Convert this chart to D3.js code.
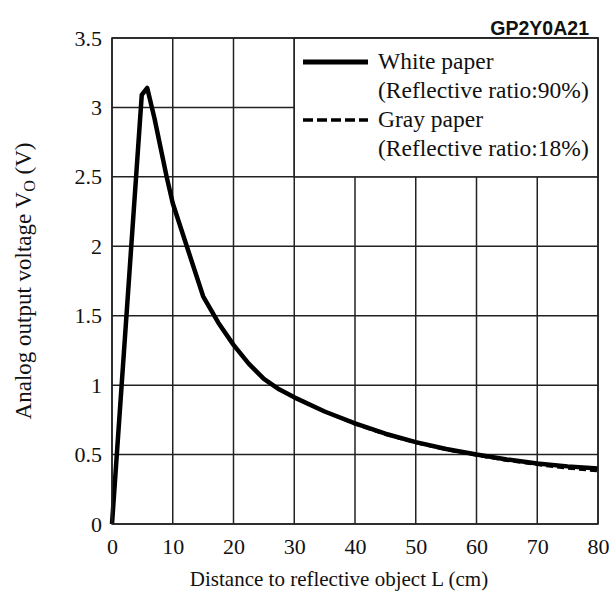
<!DOCTYPE html>
<html>
<head>
<meta charset="utf-8">
<script src="https://cdn.jsdelivr.net/npm/d3@7"></script>
<style>
body{margin:0;background:#fff;}
svg text{font-family:"Liberation Serif","Times New Roman",serif;fill:#111;}
</style>
</head>
<body>
<svg id="chart" width="611" height="601"></svg>
<script>
const title = "GP2Y0A21";
const xTicks = [0,10,20,30,40,50,60,70,80];
const yTicks = [0,0.5,1,1.5,2,2.5,3,3.5];
const yTickLabels = ["0","0.5","1","1.5","2","2.5","3","3.5"];
const distance = [0,4.9,5.8,7,8,9,10,15,17.5,20,22.5,25,27.5,30,35,40,45,50,55,60,65,70,75,80];
const whitePaper = [0,3.09,3.14,2.92,2.71,2.50,2.31,1.64,1.45,1.29,1.155,1.045,0.97,0.912,0.81,0.725,0.65,0.59,0.54,0.50,0.465,0.435,0.415,0.40];
const grayPaper  = [0,3.09,3.14,2.92,2.71,2.50,2.31,1.64,1.45,1.29,1.155,1.045,0.97,0.912,0.81,0.72,0.645,0.585,0.535,0.495,0.458,0.428,0.402,0.382];
const legendLabels = [["White paper","(Reflective ratio:90%)"],["Gray paper","(Reflective ratio:18%)"]];
const xTitle = "Distance to reflective object L (cm)";

const svg = d3.select("#chart");
const L = 112, R = 598, T = 38, B = 524;
const x = d3.scaleLinear().domain([0,80]).range([L,R]);
const y = d3.scaleLinear().domain([0,3.5]).range([B,T]);

// grid
const g = svg.append("g");
g.selectAll(".vx").data(xTicks).join("line")
  .attr("x1",d=>x(d)).attr("x2",d=>x(d)).attr("y1",T).attr("y2",B)
  .attr("stroke","#222").attr("stroke-width",1.5);
g.selectAll(".hy").data(yTicks).join("line")
  .attr("y1",d=>y(d)).attr("y2",d=>y(d)).attr("x1",L).attr("x2",R)
  .attr("stroke","#222").attr("stroke-width",1.5);

// axes labels via d3 axes
const xAxis = svg.append("g").attr("transform",`translate(0,${B})`)
  .call(d3.axisBottom(x).tickValues(xTicks).tickSize(0).tickPadding(14).tickFormat(d3.format("d")));
xAxis.select(".domain").remove();
xAxis.selectAll("text").attr("font-size",22).attr("font-family","Liberation Serif").attr("fill","#111");

const yAxis = svg.append("g").attr("transform",`translate(${L},0)`)
  .call(d3.axisLeft(y).tickValues(yTicks).tickSize(0).tickPadding(10).tickFormat((d,i)=>yTickLabels[i]));
yAxis.select(".domain").remove();
yAxis.selectAll("text").attr("font-size",22).attr("font-family","Liberation Serif").attr("fill","#111");

// curves
const line = d3.line().x((d,i)=>x(distance[i])).y(d=>y(d));
svg.append("path").datum(grayPaper).attr("d",line).attr("fill","none")
  .attr("stroke","#000").attr("stroke-width",3).attr("stroke-dasharray","7,4");
svg.append("path").datum(whitePaper).attr("d",line).attr("fill","none")
  .attr("stroke","#000").attr("stroke-width",4.5).attr("stroke-linejoin","round");

// legend box
svg.append("rect").attr("x",x(30)).attr("y",y(3.5)).attr("width",x(80)-x(30)).attr("height",y(2.5)-y(3.5))
  .attr("fill","#fff").attr("stroke","#222").attr("stroke-width",1.5);
svg.append("line").attr("x1",303).attr("x2",368).attr("y1",62).attr("y2",62)
  .attr("stroke","#000").attr("stroke-width",5);
svg.append("line").attr("x1",303).attr("x2",368).attr("y1",120).attr("y2",120)
  .attr("stroke","#000").attr("stroke-width",3.5).attr("stroke-dasharray","10,4");
const lb = [69,98,127,156];
legendLabels.flat().forEach((t,i)=>{
  svg.append("text").attr("x",378).attr("y",lb[i]).attr("font-size",23.5).text(t);
});

// frame
svg.append("rect").attr("x",L).attr("y",T).attr("width",R-L).attr("height",B-T)
  .attr("fill","none").attr("stroke","#222").attr("stroke-width",1.5);

// title
svg.append("text").attr("x",589).attr("y",35).attr("text-anchor","end")
  .attr("font-size",19.5).attr("font-weight","bold")
  .style("font-family","'Liberation Sans',Arial,sans-serif").text(title);

// x title
svg.append("text").attr("x",(190+488)/2).attr("y",586).attr("text-anchor","middle")
  .attr("font-size",21).text(xTitle);

// y title
const yt = svg.append("text").attr("transform","translate(31,281) rotate(-90)")
  .attr("text-anchor","middle").attr("font-size",23);
yt.append("tspan").text("Analog output voltage V");
yt.append("tspan").attr("font-size",16).attr("dy",4).text("O");
yt.append("tspan").attr("dy",-4).text(" (V)");
</script>
</body>
</html>
